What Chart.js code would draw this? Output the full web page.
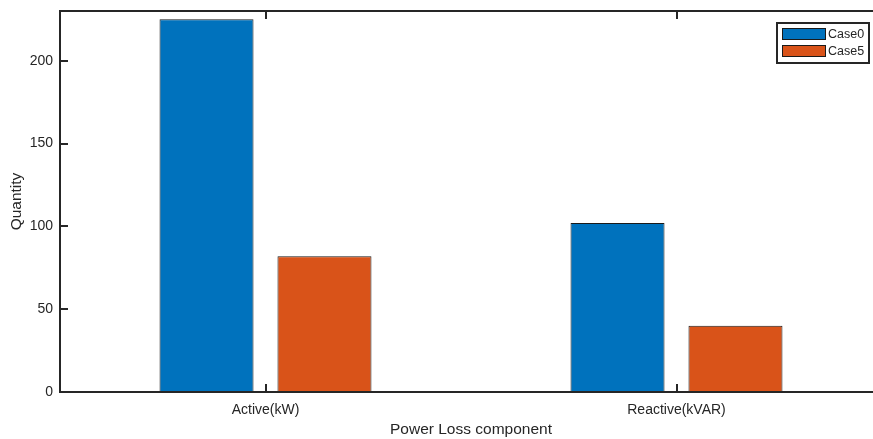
<!DOCTYPE html>
<html>
<head>
<meta charset="utf-8">
<script src="https://cdn.jsdelivr.net/npm/chart.js@4"></script>
<style>
  html, body { margin: 0; padding: 0; background: #ffffff; overflow: hidden; }
  #wrap { width: 890px; height: 439px; }
</style>
</head>
<body>
<div id="wrap"><canvas id="c" width="890" height="439"></canvas></div>
<script>
// Power loss per component, two cases
const categories = ['Active(kW)', 'Reactive(kVAR)'];
const case0Values = [225, 102];
const case5Values = [82, 40];
const seriesNames = ['Case0', 'Case5'];
const seriesColors = ['#0072BD', '#D95319'];
const yMin = 0;
const yMax = 230;
const yStep = 50;

const axisColor = '#262626';
const fontFamily = '"Liberation Sans", Arial, Helvetica, sans-serif';

// Boxed axes with inward tick marks on all four sides, plus a boxed legend
const frameAndLegend = {
  id: 'frameAndLegend',
  afterDraw(chart) {
    const { ctx, chartArea: a, scales } = chart;
    const xs = scales.x, ys = scales.y;
    const tickLen = 8;
    ctx.save();
    ctx.strokeStyle = axisColor;
    ctx.lineWidth = 2;
    ctx.beginPath();
    ctx.rect(a.left, a.top, a.right - a.left, a.bottom - a.top);
    ctx.stroke();

    ctx.beginPath();
    categories.forEach((_, i) => {
      const px = Math.round(xs.getPixelForValue(i));
      ctx.moveTo(px, a.bottom);
      ctx.lineTo(px, a.bottom - tickLen);
      ctx.moveTo(px, a.top);
      ctx.lineTo(px, a.top + tickLen);
    });
    ys.ticks.forEach(t => {
      const py = Math.round(ys.getPixelForValue(t.value));
      ctx.moveTo(a.left, py);
      ctx.lineTo(a.left + tickLen, py);
      ctx.moveTo(a.right, py);
      ctx.lineTo(a.right - tickLen, py);
    });
    ctx.stroke();

    // legend box in the upper-right corner of the axes
    const boxW = 92, boxH = 40;
    const bx = a.right - 13 - boxW, by = a.top + 12;
    ctx.fillStyle = '#ffffff';
    ctx.fillRect(bx, by, boxW, boxH);
    ctx.lineWidth = 2;
    ctx.strokeStyle = axisColor;
    ctx.strokeRect(bx, by, boxW, boxH);
    ctx.font = '12.5px ' + fontFamily;
    ctx.textBaseline = 'middle';
    ctx.textAlign = 'left';
    chart.data.datasets.forEach((ds, i) => {
      const sy = by + 5 + i * 17;
      ctx.fillStyle = ds.backgroundColor;
      ctx.fillRect(bx + 5, sy, 44, 12);
      ctx.lineWidth = 1;
      ctx.strokeStyle = '#1a1a1a';
      ctx.strokeRect(bx + 5.5, sy + 0.5, 43, 11);
      ctx.fillStyle = axisColor;
      ctx.fillText(ds.label, bx + 51, sy + 6.5);
    });
    ctx.restore();
  }
};

new Chart(document.getElementById('c'), {
  type: 'bar',
  data: {
    labels: categories,
    datasets: [
      { label: seriesNames[0], data: case0Values, backgroundColor: seriesColors[0] },
      { label: seriesNames[1], data: case5Values, backgroundColor: seriesColors[1] }
    ]
  },
  options: {
    responsive: false,
    animation: false,
    devicePixelRatio: 1,
    layout: { padding: { top: 11, right: 8, left: 0, bottom: 0 } },
    datasets: {
      bar: {
        categoryPercentage: 0.574,
        barPercentage: 0.797,
        borderColor: '#1a1a1a',
        borderWidth: 1
      }
    },
    plugins: {
      legend: { display: false },
      tooltip: { enabled: false }
    },
    scales: {
      x: {
        offset: true,
        grid: { display: false, drawTicks: false, offset: false },
        border: { display: false },
        ticks: {
          color: axisColor,
          font: { family: fontFamily, size: 14 },
          padding: 10,
          maxRotation: 0
        },
        title: {
          display: true,
          text: 'Power Loss component',
          color: axisColor,
          font: { family: fontFamily, size: 15.5 },
          padding: { top: 0, bottom: 0 }
        },
        afterFit(scale) { scale.height = 47; }
      },
      y: {
        min: yMin,
        max: yMax,
        grid: { display: false, drawTicks: false },
        border: { display: false },
        ticks: {
          stepSize: yStep,
          color: axisColor,
          font: { family: fontFamily, size: 14 },
          padding: 7
        },
        // only the round steps carry a label; the axis top stays unlabeled
        afterBuildTicks(scale) {
          scale.ticks = scale.ticks.filter(t => t.value % yStep === 0);
        },
        title: {
          display: true,
          text: 'Quantity',
          color: axisColor,
          font: { family: fontFamily, size: 15.5 },
          padding: { top: 7, bottom: 0 }
        },
        afterFit(scale) {
          scale.width = 60;
          scale.paddingTop = 0;
          scale.paddingBottom = 0;
        }
      }
    }
  },
  plugins: [frameAndLegend]
});
</script>
</body>
</html>
